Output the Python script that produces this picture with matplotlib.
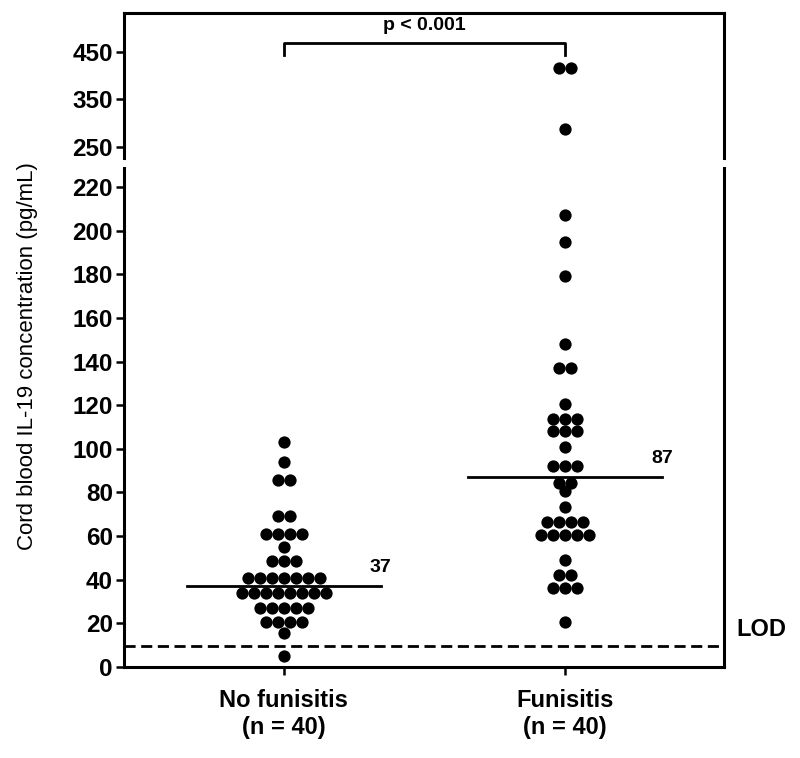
import numpy as np
import matplotlib.pyplot as plt

plt.rcParams['font.family'] = ['Liberation Sans', 'DejaVu Sans']

# values (pg/mL)
groups = ['No funisitis\n(n = 40)', 'Funisitis\n(n = 40)']
no_funisitis = [103, 94, 85.5, 85.5, 69, 69, 61, 61, 61, 61, 55,
                48.5, 48.5, 48.5, 41, 41, 41, 41, 41, 41, 41,
                34, 34, 34, 34, 34, 34, 34, 34, 27, 27, 27, 27, 27,
                20.5, 20.5, 20.5, 20.5, 15.5, 5]
funisitis = [416, 416, 288, 207, 195, 179, 148, 137, 137, 120.5,
             113.5, 113.5, 113.5, 108, 108, 108, 101, 92, 92, 92,
             84.5, 84.5, 80.5, 73.5, 66.5, 66.5, 66.5, 66.5,
             60.5, 60.5, 60.5, 60.5, 60.5, 49, 42, 42, 36, 36, 36, 20.5]
medians = [37, 87]
lod = 9.5
p_label = 'p < 0.001'
low_ticks = [0, 20, 40, 60, 80, 100, 120, 140, 160, 180, 200, 220]
high_ticks = [250, 350, 450]


def swarm_x(center, values, spacing=0.043):
    values = np.asarray(values, dtype=float)
    xs = np.zeros(len(values))
    for v in np.unique(values):
        idx = np.where(values == v)[0]
        n = len(idx)
        xs[idx] = center + (np.arange(n) - (n - 1) / 2) * spacing
    return xs


fig = plt.figure(figsize=(8, 7.58), dpi=100)
ax_hi = fig.add_axes([0.155, 0.7916, 0.75, 0.1913])
ax_lo = fig.add_axes([0.155, 0.12, 0.75, 0.6583])

lw = 2.2
for ax in (ax_hi, ax_lo):
    for i, vals in enumerate([no_funisitis, funisitis]):
        ax.scatter(swarm_x(i, vals), vals, s=78, color='black',
                   linewidths=0, zorder=3)
    ax.set_xlim(-0.569, 1.566)
    for sp in ax.spines.values():
        sp.set_linewidth(lw)
    ax.tick_params(axis='y', direction='out', length=6, width=1.8,
                   labelsize=17.5, pad=2)

ax_hi.set_ylim(226.8, 532)
ax_hi.set_yticks(high_ticks)
ax_hi.set_yticklabels([str(t) for t in high_ticks], fontweight='bold')
ax_hi.spines['bottom'].set_visible(False)
ax_hi.set_xticks([])

ax_lo.set_ylim(0, 228.7)
ax_lo.set_yticks(low_ticks)
ax_lo.set_yticklabels([str(t) for t in low_ticks], fontweight='bold')
ax_lo.spines['top'].set_visible(False)
ax_lo.set_xticks([0, 1])
ax_lo.set_xticklabels(groups, fontweight='bold', fontsize=17,
                      linespacing=1.2)
ax_lo.tick_params(axis='x', direction='out', length=6, width=1.8, pad=10)

# medians
for i, m in enumerate(medians):
    ax_lo.plot([i - 0.345, i + 0.345], [m, m], color='black', lw=2.0,
               zorder=2)
    ax_lo.annotate(str(m), xy=(i + 0.345, m), xytext=(0, 19),
                   textcoords='offset pixels', ha='center', va='center',
                   fontsize=14, fontweight='bold')

# limit of detection
ax_lo.axhline(lod, color='black', lw=2.0, linestyle=(0, (4, 2)))
ax_lo.text(1.02, 17, 'LOD', transform=ax_lo.get_yaxis_transform(),
           ha='left', va='center', fontsize=17, fontweight='bold',
           clip_on=False)

# significance bracket
ax_hi.plot([0, 0, 1, 1], [444, 469, 469, 444], color='black', lw=2.0,
           clip_on=False)
ax_hi.text(0.5, 505, p_label, ha='center', va='center', fontsize=14,
           fontweight='bold')

fig.text(0.035, 0.53, 'Cord blood IL-19 concentration (pg/mL)',
         rotation=90, ha='center', va='center', fontsize=16)

fig.savefig('out.png', dpi=100)
